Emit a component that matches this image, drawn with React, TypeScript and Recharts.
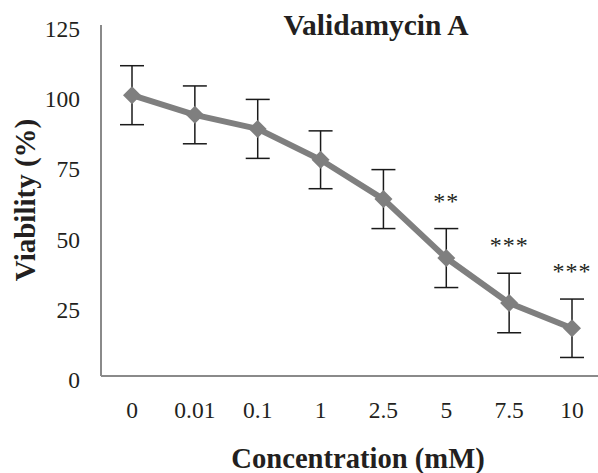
import { ErrorBar, LabelList, Line, LineChart, XAxis, YAxis } from 'recharts'

const concentrations = ['0', '0.01', '0.1', '1', '2.5', '5', '7.5', '10']
const viability = [100, 93, 88, 77, 63, 42, 26, 17]
const sd = [10.5, 10.3, 10.5, 10.3, 10.5, 10.5, 10.6, 10.4]
const significance = ['', '', '', '', '', '**', '***', '***']
const yTicks = [0, 25, 50, 75, 100, 125]

const SERIF = '"Liberation Serif", "Times New Roman", serif'
const AXIS = '#8a8a8a'
const SERIES = '#7f7f7f'
const INK = '#231f20'

const data = concentrations.map((conc, i) => ({
  conc,
  viability: viability[i],
  sd: sd[i],
  upper: viability[i] + sd[i],
  sig: significance[i],
}))

function Diamond(props: any) {
  const { cx, cy, index } = props
  if (cx == null || cy == null) return null
  const r = 9
  return (
    <polygon
      key={`d-${index}`}
      points={`${cx},${cy - r} ${cx + r},${cy} ${cx},${cy + r} ${cx - r},${cy}`}
      fill={SERIES}
    />
  )
}

function YTick({ x, y, payload }: any) {
  return (
    <text x={x - 21} y={y + 12} textAnchor="end" fontFamily={SERIF} fontSize={23.5} fill={INK}>
      {payload.value}
    </text>
  )
}

function XTick({ x, y, payload }: any) {
  return (
    <text x={x} y={y + 42} textAnchor="middle" fontFamily={SERIF} fontSize={23.5} fill={INK}>
      {payload.value}
    </text>
  )
}

// significance marks sit a fixed distance above the top of each error bar
function Stars({ x, y, value }: any) {
  if (!value) return null
  return (
    <text x={x} y={y - 20} textAnchor="middle" fontFamily={SERIF} fontSize={24} letterSpacing={1} fill={INK}>
      {value}
    </text>
  )
}

export default function App() {
  return (
    <div style={{ position: 'absolute', left: 0, top: 0, width: 598, height: 473, overflow: 'hidden', background: '#fff' }}>
      <LineChart width={604} height={473} data={data} margin={{ top: 25, right: 1, bottom: 0, left: 0 }}>
        <text x={376} y={35} textAnchor="middle" fontFamily={SERIF} fontSize={29.5} fontWeight="bold" fill={INK}>
          Validamycin A
        </text>
        <text
          x={25}
          y={200}
          transform="rotate(-90 25 200)"
          textAnchor="middle"
          dominantBaseline="central"
          fontFamily={SERIF}
          fontSize={29}
          fontWeight="bold"
          fill={INK}
        >
          Viability (%)
        </text>
        <text x={358} y={468} textAnchor="middle" fontFamily={SERIF} fontSize={28.6} fontWeight="bold" fill={INK}>
          Concentration (mM)
        </text>
        <XAxis
          dataKey="conc"
          height={97}
          padding={{ left: 31, right: 31 }}
          axisLine={{ stroke: AXIS, strokeWidth: 2 }}
          tickLine={false}
          tickSize={0}
          tickMargin={0}
          tick={<XTick />}
          interval={0}
        />
        <YAxis
          width={101}
          domain={[0, 125]}
          ticks={yTicks}
          axisLine={{ stroke: AXIS, strokeWidth: 2 }}
          tickLine={false}
          tickSize={0}
          tickMargin={0}
          tick={<YTick />}
        />
        <Line
          dataKey="viability"
          stroke={SERIES}
          strokeWidth={6}
          dot={Diamond}
          activeDot={false}
          isAnimationActive={false}
        >
          <ErrorBar dataKey="sd" width={12} stroke="#1a1a1a" strokeWidth={1.5} direction="y" />
        </Line>
        <Line dataKey="upper" stroke="none" dot={false} activeDot={false} isAnimationActive={false}>
          <LabelList dataKey="sig" content={<Stars />} />
        </Line>
      </LineChart>
    </div>
  )
}
